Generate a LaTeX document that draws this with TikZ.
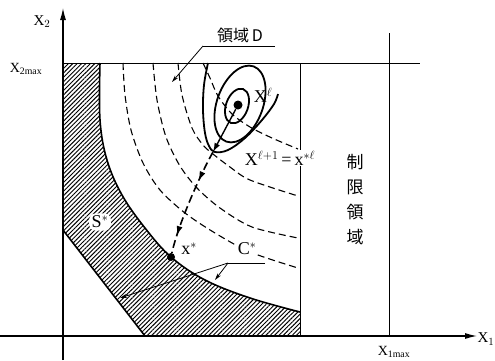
\documentclass[tikz,border=0pt]{standalone}
\usepackage{fontspec}
\setmainfont{Liberation Serif}
\newfontfamily\jpfont{Noto Sans CJK JP}
\usetikzlibrary{arrows.meta,patterns.meta,decorations.markings}
\begin{document}
\begin{tikzpicture}[x=1pt,y=-1pt,
  axis/.style={line width=1.2pt,-{Latex[length=12pt,width=6pt]}},
  frame/.style={line width=0.9pt},
  bound/.style={line width=1.6pt},
  contour/.style={line width=1.8pt},
  level/.style={line width=1.1pt,dash pattern=on 7pt off 4pt},
  leader/.style={line width=0.8pt},
  leadarrow/.style={line width=0.8pt,-{Stealth[length=7pt,width=4pt]}},
  lab/.style={inner sep=1pt,font=\fontsize{18}{18}\selectfont},
  axlab/.style={inner sep=0pt,font=\fontsize{15}{15}\selectfont},
  dotnode/.style={circle,fill=black,inner sep=0pt,minimum size=#1},
  descent/.style={line width=1.6pt,dash pattern=on 8pt off 4pt,postaction={decorate},
    decoration={markings,
      mark=at position 0.3 with {\arrow{Latex[length=10pt,width=6pt]}},
      mark=at position 0.84 with {\arrow{Latex[length=10pt,width=6pt]}}}}
]
\useasboundingbox (0,0) rectangle (495,360);

% hatched region S*
\fill[pattern={Lines[angle=45,distance=3.1pt,line width=0.95pt]}]
  (63,63) -- (100,63) -- plot[smooth,tension=0.6] coordinates
  {(100,63) (100,120) (107,160) (122,195) (145,228) (171,257) (205,280) (250,298) (300,312)}
  -- (300,336) -- (145,336) -- (63,230) -- cycle;
\draw[bound] plot[smooth,tension=0.6] coordinates
  {(100,63) (100,120) (107,160) (122,195) (145,228) (171,257) (205,280) (250,298) (300,312)};
\coordinate (Ob1) at (63,230);
\coordinate (Ob2) at (145,336);
\draw[bound] (Ob1) -- (Ob2);

% frame lines
\coordinate (TL) at (63,63);
\coordinate (TR) at (420,63);
\coordinate (V1) at (389,33);
\coordinate (V2) at (389,336);
\coordinate (R1) at (300,63);
\coordinate (R2) at (300,336);
\draw[frame] (TL) -- (TR);
\draw[frame] (V1) -- (V2);
\draw[frame] (R1) -- (R2);

% axes
\coordinate (Yb) at (63,360);
\coordinate (Yt) at (63,8);
\coordinate (Xb) at (0,336);
\coordinate (Xt) at (477,336);
\draw[axis] (Yb) -- (Yt);
\draw[axis] (Xb) -- (Xt);

% level curves (dashed)
\draw[level] plot[smooth] coordinates
  {(123,63) (125,95) (131,130) (143,163) (160,190) (185,213) (215,233) (250,252) (298,268)};
\draw[level] plot[smooth] coordinates
  {(153,63) (157,100) (166,137) (180,166) (197,188) (220,208) (252,227) (298,238)};
\draw[level] plot[smooth] coordinates
  {(178,63) (182,95) (192,128) (203,145) (213,154) (230,167) (250,180) (298,196)};
\draw[level] plot[smooth] coordinates
  {(203,63) (210,78) (218,96) (232,114) (250,127) (272,138) (298,149)};

% objective contours
\draw[contour, rotate around={70:(237,106)}] (237,106) ellipse [x radius=18, y radius=11];
\draw[contour, rotate around={70:(240,104)}] (240,104) ellipse [x radius=40, y radius=23];
\draw[contour] plot[smooth,tension=0.6] coordinates
  {(208,63) (204,85) (203,110) (205,133) (209,146) (215,152) (228,150) (245,138) (262,120) (274,104) (278,94)};

% points and search path
\node[dotnode=9pt] (Xl) at (238,105) {};
\coordinate (Xn) at (213,152);
\node[dotnode=8pt] (xs) at (171,257) {};
\draw[line width=1.4pt,-{Latex[length=9pt,width=6pt]}] (Xl) -- (Xn);
\draw[descent] (Xn) .. controls (200,175) and (178,225) .. (xs);

% labels
\node[axlab] (lx2) at (42,22) {X$_2$};
\node[axlab,font=\fontsize{14}{14}\selectfont] (lx2m) at (26,69) {X$_{\mathrm{2max}}$};
\node[axlab] (lx1) at (486,339) {X$_1$};
\node[axlab,anchor=south,font=\fontsize{14}{14}\selectfont] (lx1m) at (394,358) {X$_{\mathrm{1max}}$};

\node[inner sep=1pt,font=\fontsize{16}{16}\selectfont] (D) at (240,35) {\jpfont 領域\,D};
\coordinate (Du1) at (203,46);
\coordinate (Du2) at (275,46);
\coordinate (Dt) at (172,82);
\draw[leader] (Du2) -- (Du1);
\draw[leadarrow] (Du1) -- (Dt);

\node[lab] (XlL) at (263,95) {X$^{\ell}$};
\node[lab,fill=white] (XnL) at (280,158) {X$^{\ell+1}$\,=\,x$^{*\ell}$};

\node[lab,fill=white,rounded corners=6pt,inner sep=2.5pt] (S) at (100,222) {S$^*$};
\node[lab] (xsL) at (189,249) {x$^*$};

\node[lab,fill=white] (C) at (247,249) {C$^*$};
\coordinate (Cl) at (228,263);
\coordinate (Cr) at (265,263);
\coordinate (Ct1) at (120,298);
\coordinate (Ct2) at (215,280);
\draw[leader] (Cr) -- (Cl);
\draw[leadarrow] (Cl) -- (Ct1);
\draw[leadarrow] (Cl) -- (Ct2);

\node[font=\jpfont\fontsize{17}{25}\selectfont,align=center,inner sep=0pt] (R) at (355,200) {制\\限\\領\\域};
\end{tikzpicture}
\end{document}
